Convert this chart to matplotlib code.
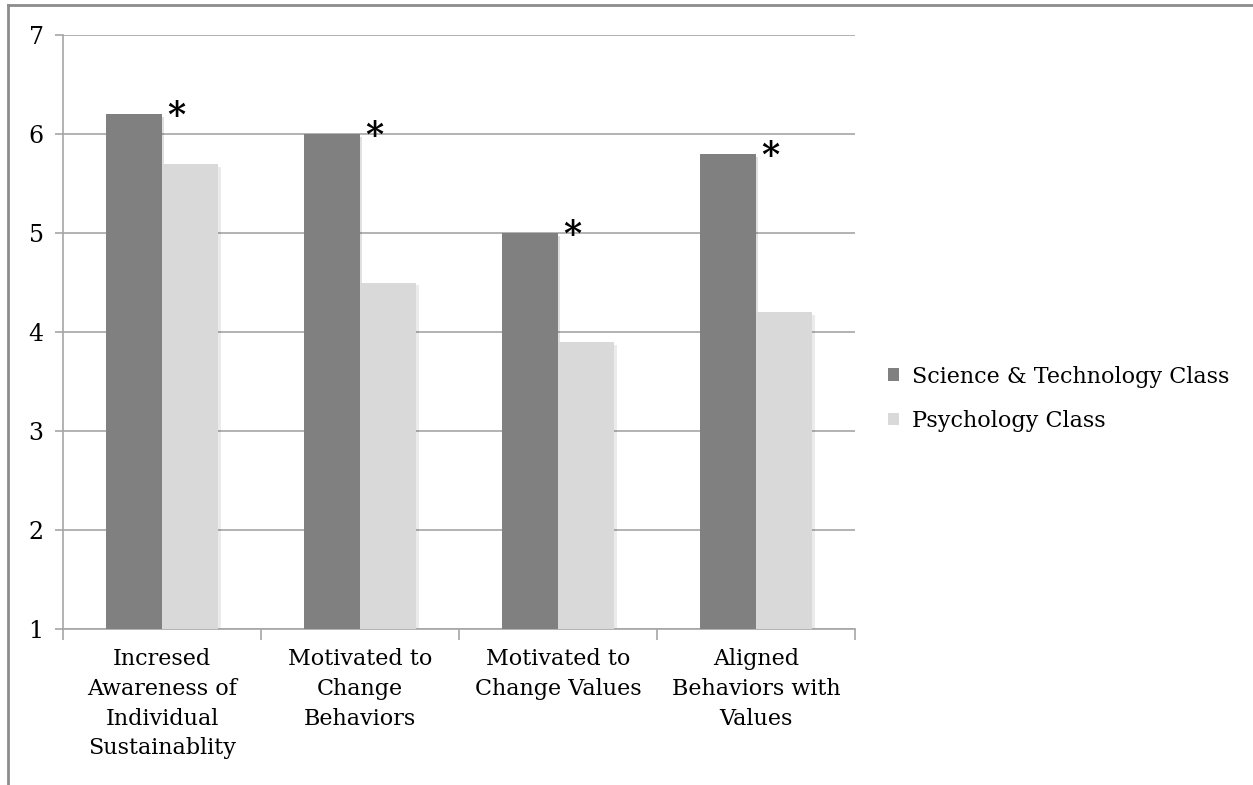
import matplotlib
matplotlib.use("Agg")
import matplotlib.pyplot as plt
from matplotlib.lines import Line2D
from matplotlib.patches import Rectangle
import numpy as np

categories = ["Incresed\nAwareness of\nIndividual\nSustainablity",
              "Motivated to\nChange\nBehaviors",
              "Motivated to\nChange Values",
              "Aligned\nBehaviors with\nValues"]
series_names = ["Science & Technology Class", "Psychology Class"]
sci_tech = [6.2, 6.0, 5.0, 5.8]
psychology = [5.7, 4.5, 3.9, 4.2]
significant = [True, True, True, True]
yticks = [1, 2, 3, 4, 5, 6, 7]

FONT = "DejaVu Serif"
plt.rcParams['font.family'] = [FONT]

fig = plt.figure(figsize=(12.53, 7.85), dpi=100)
ax = fig.add_axes([0.0503, 0.1987, 0.6321, 0.7567])

x = np.arange(len(categories))
w = 0.285
c1, c2 = "#808080", "#d9d9d9"

for xi, v in zip(x - w / 2, sci_tech):
    ax.add_patch(Rectangle((xi - w / 2 + 0.012, 1), w, v - 1 - 0.03, color="#000000", alpha=0.12, zorder=2, lw=0))
for xi, v in zip(x + w / 2, psychology):
    ax.add_patch(Rectangle((xi - w / 2 + 0.012, 1), w, v - 1 - 0.03, color="#000000", alpha=0.08, zorder=2, lw=0))

ax.bar(x - w / 2, np.array(sci_tech) - 1, w, bottom=1, color=c1, label=series_names[0], zorder=3)
ax.bar(x + w / 2, np.array(psychology) - 1, w, bottom=1, color=c2, label=series_names[1], zorder=3)

for xi, v, s in zip(x, sci_tech, significant):
    if s:
        ax.text(xi + 0.07, v - 0.12, "*", ha="center", va="baseline", fontsize=25,
                fontweight="bold", color="black", zorder=4)

ax.set_xlim(-0.5, 3.5)
ax.set_ylim(1, 7)
ax.set_yticks(yticks)
ax.set_yticklabels([str(t) for t in yticks], fontsize=17)
ax.yaxis.grid(True, color="#a6a6a6", lw=1.2, zorder=0)
ax.set_axisbelow(True)

ax.set_xticks(np.arange(-0.5, 3.51, 1.0))
ax.set_xticklabels([])
ax.set_xticks(x, minor=True)
ax.set_xticklabels(categories, minor=True, fontsize=16, linespacing=1.45)
ax.tick_params(axis="x", which="minor", length=0, pad=14)
ax.tick_params(axis="x", which="major", length=8, color="#a6a6a6", width=1.2)
ax.tick_params(axis="y", length=6, color="#a6a6a6", width=1.2, pad=8)

for side in ["top", "right"]:
    ax.spines[side].set_visible(False)
for side in ["left", "bottom"]:
    ax.spines[side].set_color("#a6a6a6")
    ax.spines[side].set_linewidth(1.2)

leg = fig.legend(loc="center left", bbox_to_anchor=(0.693, 0.492), frameon=False,
                 fontsize=16, handlelength=0.5, handleheight=0.5, handletextpad=0.55,
                 labelspacing=1.0)

# figure frame (top and left edges)
fig.add_artist(Line2D([0.0065, 0.0065], [0, 0.9935], transform=fig.transFigure, color="#8c8c8c", lw=2))
fig.add_artist(Line2D([0.0065, 1.0], [0.9935, 0.9935], transform=fig.transFigure, color="#8c8c8c", lw=2))

fig.savefig("out.png", dpi=100)
